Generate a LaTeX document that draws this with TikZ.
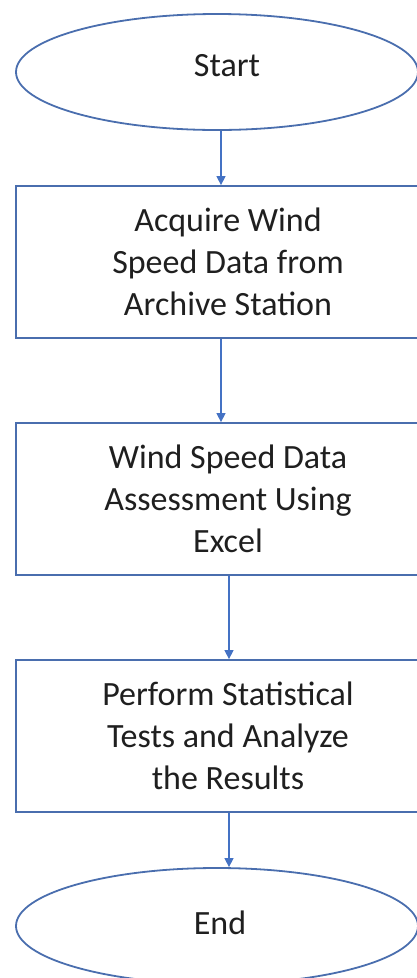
\documentclass[tikz,border=0pt]{standalone}
\usepackage{fontspec}
\setmainfont{Carlito}
\usetikzlibrary{shapes.geometric,arrows.meta,calc}
\definecolor{arrowblue}{HTML}{4472C4}
\definecolor{lineblue}{HTML}{4A6EAE}
\begin{document}
\begin{tikzpicture}[x=1pt,y=-1pt,
  term/.style={draw=lineblue,line width=1.8pt,ellipse,minimum width=402pt,minimum height=116pt,inner sep=0pt},
  procbox/.style={draw=lineblue,line width=1.8pt,rectangle,minimum width=424pt,minimum height=152pt,inner sep=0pt,
    font=\fontsize{34}{42}\selectfont,text=black!88,align=center},
  txt/.style={font=\fontsize{34}{42}\selectfont,text=black!88,align=center,inner sep=0pt},
  arr/.style={draw=arrowblue,line width=1.4pt,-{Triangle[length=9pt,width=9pt]}}]
\useasboundingbox (0,0) rectangle (417,978);
\clip (0,0) rectangle (417,978);
\node[term] (start) at (217,72) {};
\node[txt] (starttext) at (227,66) {Start};
\node[procbox] (box1) at (228,262) {Acquire Wind\\Speed Data from\\Archive Station};
\node[procbox] (box2) at (228,499) {Wind Speed Data\\Assessment Using\\Excel};
\node[procbox] (box3) at (228,736) {Perform Statistical\\Tests and Analyze\\the Results};
\node[term] (end) at (217,926) {};
\node[txt] (endtext) at (220,923) {End};
\coordinate (a1) at ($(start.south)+(4,0)$);
\coordinate (a2) at ($(box1.south)+(-7,0)$);
\coordinate (a3) at ($(box2.south)+(1,0)$);
\coordinate (a4) at ($(box3.south)+(1,0)$);
\draw[arr] (a1) -- (a1 |- box1.north);
\draw[arr] (a2) -- (a2 |- box2.north);
\draw[arr] (a3) -- (a3 |- box3.north);
\draw[arr] (a4) -- (a4 |- end.north);
\end{tikzpicture}
\end{document}
